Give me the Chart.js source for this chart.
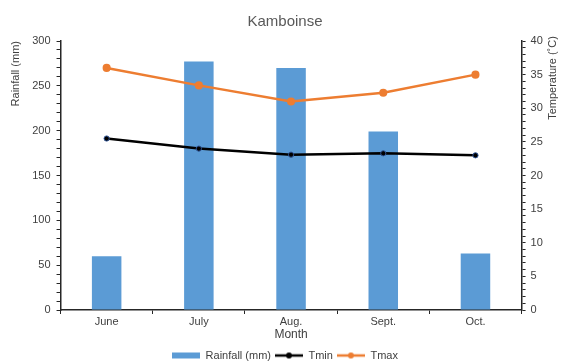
<!DOCTYPE html>
<html>
<head>
<meta charset="utf-8">
<script src="https://cdn.jsdelivr.net/npm/chart.js@4"></script>
<style>
  html, body { margin: 0; padding: 0; background: #fff; }
  #wrap { width: 564px; height: 363px; }
</style>
</head>
<body>
<div id="wrap"><canvas id="c"></canvas></div>
<script>
// ===== Kamboinse rainfall / temperature =====
const months = ['June', 'July', 'Aug.', 'Sept.', 'Oct.'];
const rainfall = [60, 277, 270, 199, 63];
const tmin = [25.5, 24.0, 23.1, 23.3, 23.0];
const tmax = [36.0, 33.4, 31.0, 32.3, 35.0];

const BLUE = '#5B9BD5';
const ORANGE = '#ED7D31';
const TEXT = '#404040';
const AXIS = '#262626';
const FONT = '"Liberation Sans", Arial, sans-serif';

// little legend swatches drawn on canvases
function swatch(kind, color, dot) {
    const c = document.createElement('canvas');
    c.width = 28; c.height = 8;
    const g = c.getContext('2d');
    if (kind === 'bar') {
        g.fillStyle = color;
        g.fillRect(0, 1, 28, 6);
    } else {
        g.strokeStyle = color; g.lineWidth = 2.5;
        g.beginPath(); g.moveTo(0, 4); g.lineTo(28, 4); g.stroke();
        g.fillStyle = dot; g.beginPath(); g.arc(14, 4, 3, 0, Math.PI * 2); g.fill();
    }
    return c;
}

// right axis title reads bottom-to-top, like the left one
const rightTitle = {
    id: 'rightTitle',
    afterDraw(chart) {
        const ctx = chart.ctx;
        ctx.save();
        ctx.translate(553, 78);
        ctx.rotate(-Math.PI / 2);
        ctx.font = '11px ' + FONT;
        ctx.fillStyle = TEXT;
        ctx.textAlign = 'center';
        ctx.textBaseline = 'middle';
        ctx.fillText('Temperature (\u02DAC)', 0, 0);
        ctx.restore();
    }
};

new Chart(document.getElementById('c'), {
    type: 'bar',
    data: {
        labels: months,
        datasets: [
            { type: 'line', label: 'Tmin', data: tmin, yAxisID: 'yT', borderColor: '#000', backgroundColor: '#000',
              pointBorderColor: '#2F5597', pointBorderWidth: 1, borderWidth: 2.5, pointRadius: 2.6, tension: 0, order: 0 },
            { type: 'line', label: 'Tmax', data: tmax, yAxisID: 'yT', borderColor: ORANGE, backgroundColor: ORANGE,
              pointBorderColor: ORANGE, borderWidth: 2.5, pointRadius: 2.8, tension: 0, order: 0 },
            { label: 'Rainfall (mm)', data: rainfall, yAxisID: 'yR', backgroundColor: BLUE, borderWidth: 0,
              categoryPercentage: 1, barPercentage: 0.32, order: 1 }
        ]
    },
    options: {
        responsive: true, maintainAspectRatio: false, animation: false,
        layout: { padding: { left: 9, right: 3, top: 0, bottom: -8 } },
        scales: {
            x: {
                grid: { offset: true, drawOnChartArea: false, color: AXIS, tickLength: 4 },
                border: { color: AXIS, width: 1.5 },
                ticks: { color: TEXT, font: { family: FONT, size: 11, lineHeight: 1 }, padding: 2 },
                title: { display: true, text: 'Month', color: TEXT, font: { family: FONT, size: 12, lineHeight: 1 }, padding: { top: 0, bottom: 5 } }
            },
            yR: {
                position: 'left', min: 0, max: 300,
                grid: { drawOnChartArea: false, color: AXIS, tickLength: 4 },
                border: { color: AXIS, width: 1.5 },
                ticks: { stepSize: 10, autoSkip: false, color: TEXT, font: { family: FONT, size: 11 }, padding: 6,
                         callback: v => v % 50 === 0 ? v : '' },
                title: { display: true, text: 'Rainfall (mm)', align: 'end', color: TEXT, font: { family: FONT, size: 11 }, padding: { top: 0, bottom: 4 } }
            },
            yT: {
                position: 'right', min: 0, max: 40,
                grid: { drawOnChartArea: false, color: AXIS, tickLength: 4 },
                border: { color: AXIS, width: 1.5 },
                ticks: { stepSize: 1, autoSkip: false, color: TEXT, font: { family: FONT, size: 11 }, padding: 5,
                         callback: v => v % 5 === 0 ? v : '' },
                title: { display: true, text: 'Temperature (\u02DAC)', color: 'rgba(0,0,0,0)', font: { family: FONT, size: 11 }, padding: { top: 0, bottom: 0 } }
            }
        },
        plugins: {
            title: { display: true, text: 'Kamboinse', color: '#595959', font: { family: FONT, size: 15, weight: 'normal' }, padding: { top: 13, bottom: 10 } },
            tooltip: { enabled: false },
            legend: {
                position: 'bottom',
                labels: {
                    usePointStyle: true, pointStyleWidth: 28, padding: 4,
                    color: TEXT, font: { family: FONT, size: 11 },
                    generateLabels: () => [
                        { text: 'Rainfall (mm)', pointStyle: swatch('bar', BLUE), datasetIndex: 2, fontColor: TEXT, lineWidth: 0, strokeStyle: 'rgba(0,0,0,0)' },
                        { text: 'Tmin', pointStyle: swatch('line', '#000', '#000'), datasetIndex: 0, fontColor: TEXT, lineWidth: 0, strokeStyle: 'rgba(0,0,0,0)' },
                        { text: 'Tmax', pointStyle: swatch('line', ORANGE, ORANGE), datasetIndex: 1, fontColor: TEXT, lineWidth: 0, strokeStyle: 'rgba(0,0,0,0)' }
                    ]
                }
            }
        }
    },
    plugins: [rightTitle]
});
</script>
</body>
</html>
